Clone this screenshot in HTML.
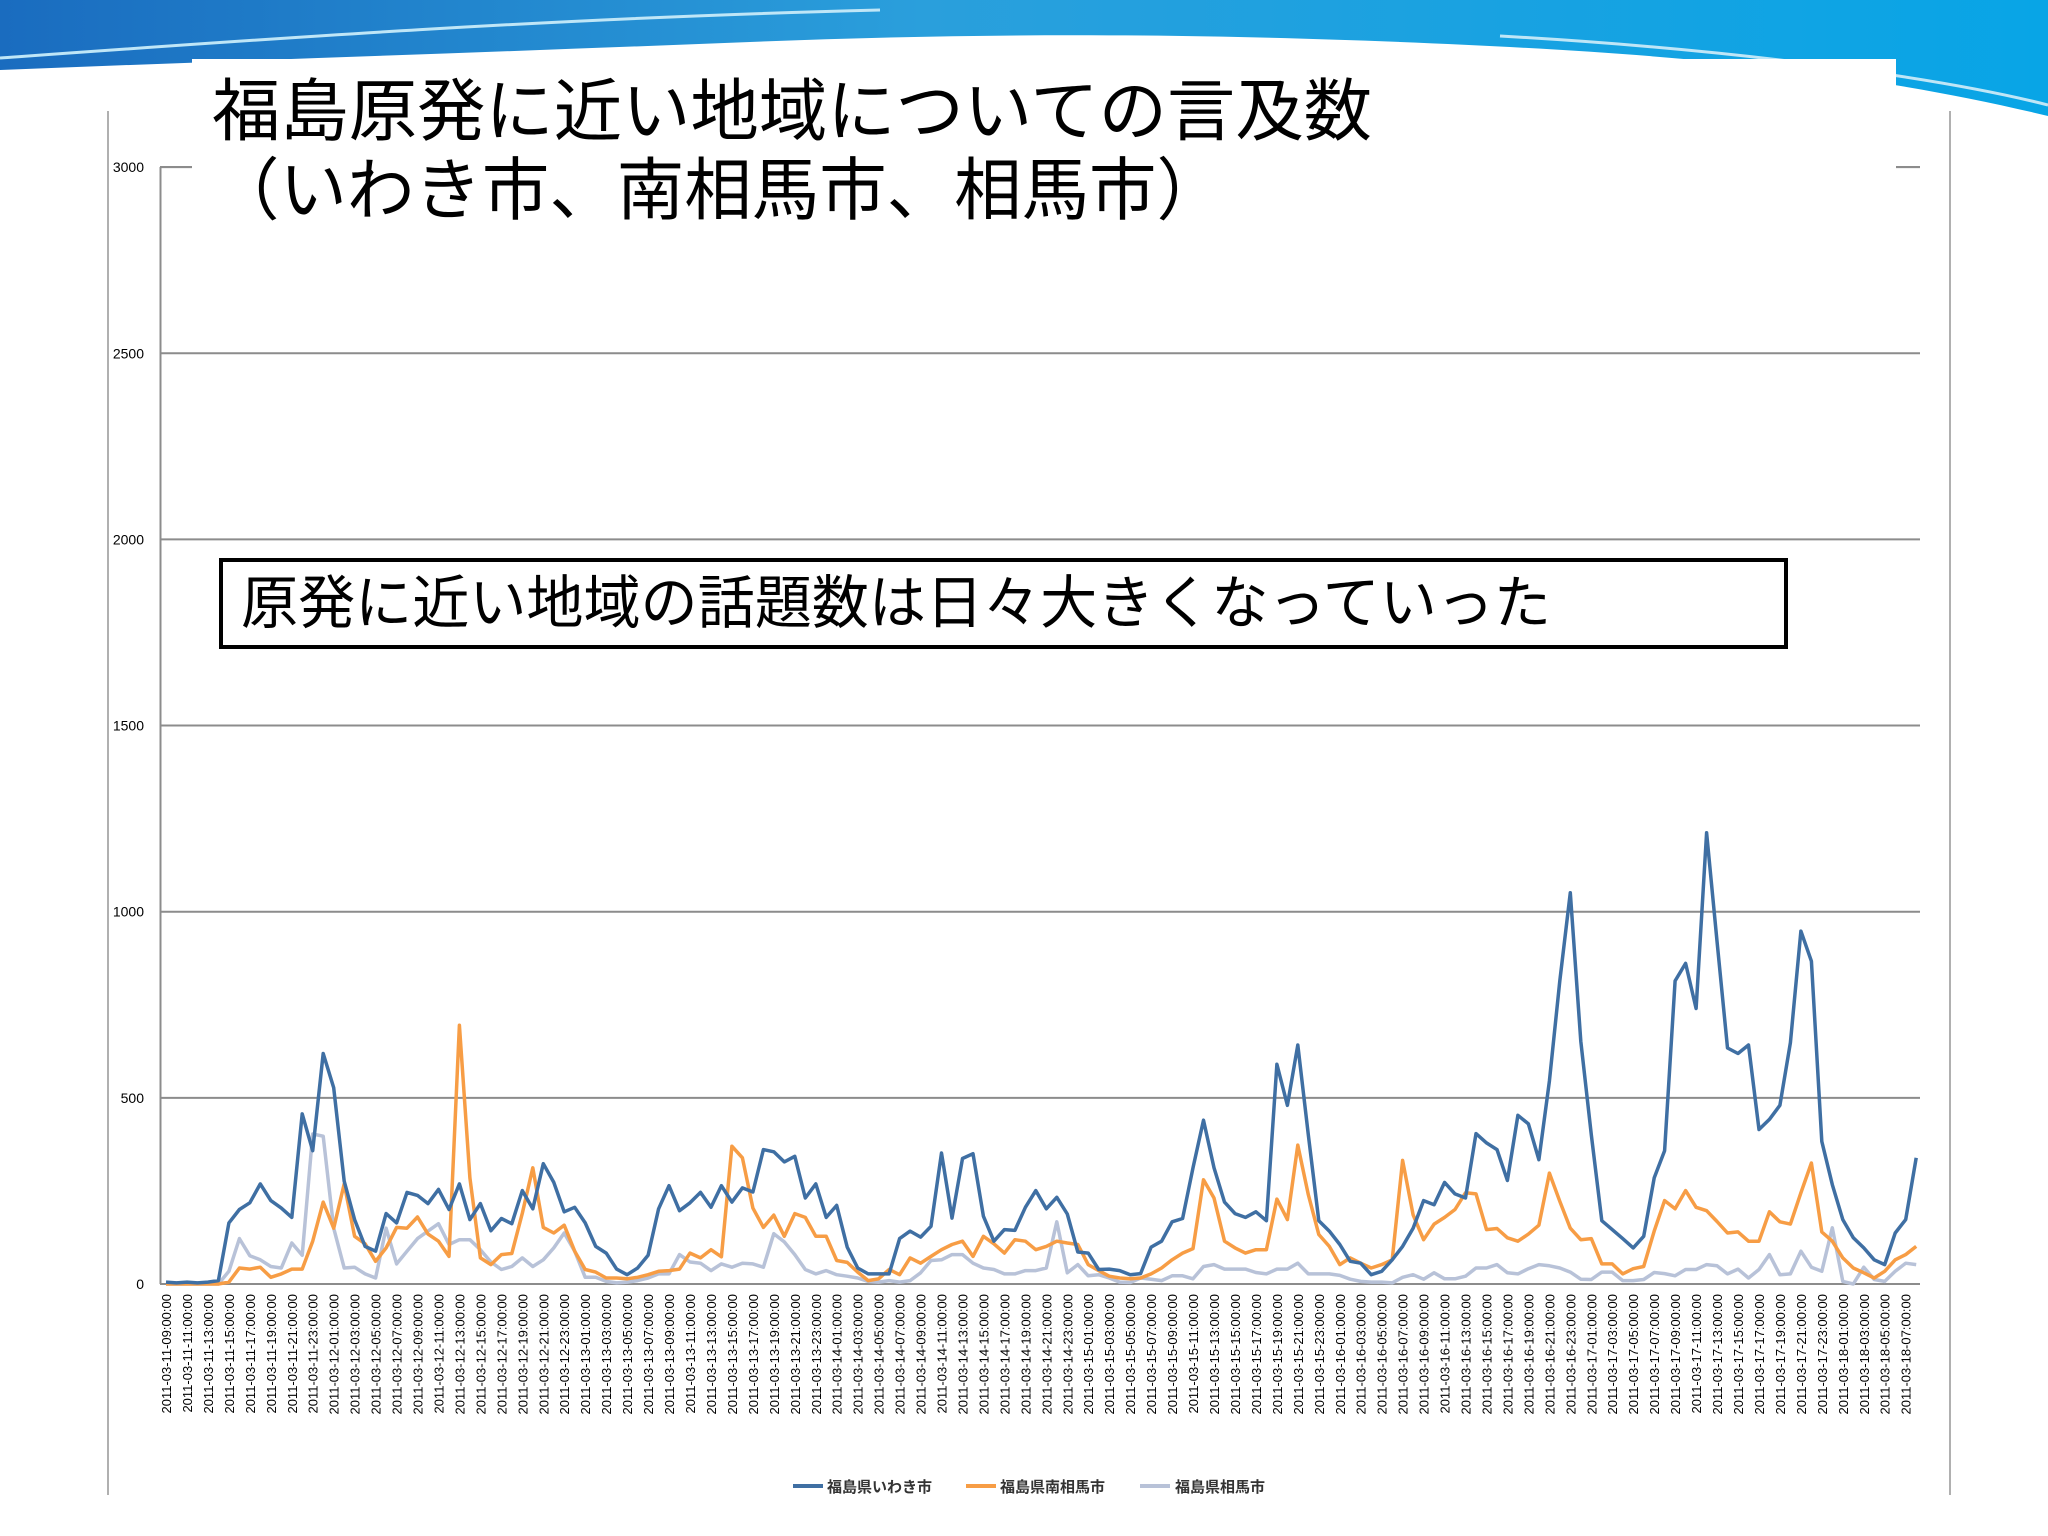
<!DOCTYPE html>
<html><head><meta charset="utf-8">
<style>
html,body{margin:0;padding:0;background:#fff;}
body{width:2048px;height:1536px;overflow:hidden;position:relative;font-family:"Liberation Sans","Noto Sans CJK JP",sans-serif;}
svg{position:absolute;left:0;top:0;}
</style></head>
<body>
<svg id="chart" width="2048" height="1536" viewBox="0 0 2048 1536">
  <defs>
    <linearGradient id="bg" x1="0" y1="0" x2="1" y2="0">
      <stop offset="0" stop-color="#1a6cbf"/>
      <stop offset="0.45" stop-color="#2a9fdc"/>
      <stop offset="1" stop-color="#08a5e6"/>
    </linearGradient>
  </defs>
  <g>
    <rect x="0" y="0" width="2048" height="130" fill="url(#bg)"/>
    <path d="M0,70 C250,60 500,52 750,42 C950,34 1150,32 1400,42 C1650,52 1850,68 2048,116 L2048,1536 L0,1536 Z" fill="#ffffff"/>
    <path d="M0,58 C250,40 550,18 880,10" stroke="#bfe6f7" stroke-width="3" fill="none"/>
    <path d="M1500,36 C1750,50 1950,80 2048,105" stroke="#bfe6f7" stroke-width="3" fill="none"/>
  </g>
  <rect x="192" y="59" width="1704" height="160" fill="#fff"/>
  <line x1="108" y1="111" x2="108" y2="1495" stroke="#b0b0b0" stroke-width="2"/>
  <line x1="1950" y1="111" x2="1950" y2="1495" stroke="#b0b0b0" stroke-width="2"/>
  <g id="grid"></g>
  <g id="yticks"></g>
  <g id="xticks"></g>
  <g id="series"></g>
  <rect x="192" y="59" width="1704" height="170" fill="#fff"/>
  <line x1="160" y1="167" x2="192" y2="167" stroke="#8c8c8c" stroke-width="2"/>
  <line x1="1896" y1="167" x2="1920" y2="167" stroke="#8c8c8c" stroke-width="2"/>
  <text x="212" y="135" font-size="68" fill="#000" textLength="1160" lengthAdjust="spacingAndGlyphs">福島原発に近い地域についての言及数</text>
  <text x="212" y="214" font-size="68" fill="#000" textLength="1012" lengthAdjust="spacingAndGlyphs">（いわき市、南相馬市、相馬市）</text>
  <rect x="221" y="560" width="1565" height="87" fill="#fff" stroke="#000" stroke-width="4"/>
  <text x="241" y="623" font-size="58" fill="#000" textLength="1310" lengthAdjust="spacingAndGlyphs">原発に近い地域の話題数は日々大きくなっていった</text>
  <g>
    <g>
      <line x1="793" y1="1486" x2="823" y2="1486" stroke="#3f6fa3" stroke-width="4"/>
      <text x="827" y="1492" font-size="15" font-weight="bold" fill="#333">福島県いわき市</text>
    </g>
    <g>
      <line x1="966" y1="1486" x2="996" y2="1486" stroke="#f79d45" stroke-width="4"/>
      <text x="1000" y="1492" font-size="15" font-weight="bold" fill="#333">福島県南相馬市</text>
    </g>
    <g>
      <line x1="1140" y1="1486" x2="1170" y2="1486" stroke="#b8c2d8" stroke-width="4"/>
      <text x="1175" y="1492" font-size="15" font-weight="bold" fill="#333">福島県相馬市</text>
    </g>
  </g>
</svg>
<script>
const yTicks = [0,500,1000,1500,2000,2500,3000];
const iwaki = [5,3,5,3,5,9,164,200,218,269,224,204,179,457,358,619,527,276,173,101,88,189,164,246,238,216,254,200,269,173,216,143,176,162,251,202,323,273,194,206,164,101,83,40,
25,43,77,202,264,197,218,246,206,264,220,258,247,361,355,328,343,231,269,179,211,99,43,27,27,27,122,142,126,155,352,177,337,350,182,115,146,144,206,251,202,233,
188,86,83,39,40,36,25,28,99,115,167,176,312,440,312,220,189,179,194,170,590,480,642,401,170,142,106,61,56,25,34,65,101,150,224,213,273,242,231,404,379,361,278,
453,430,334,545,814,1051,652,401,170,146,122,97,128,285,358,814,861,740,1212,921,634,619,642,415,442,480,648,948,867,383,267,173,124,97,65,52,137,173,339];
const minamisoma = [0,0,0,0,0,0,5,43,40,45,18,27,40,40,115,220,150,269,128,108,61,97,152,150,180,134,115,74,695,285,70,52,79,82,190,312,152,137,158,88,39,32,16,16,
14,18,25,34,36,40,83,70,92,73,370,339,204,152,185,128,189,179,128,128,63,58,32,9,14,39,25,70,56,74,92,106,115,74,128,108,83,119,115,92,101,115,
110,106,52,36,21,16,14,16,27,43,65,83,95,280,231,115,97,83,92,92,228,173,373,240,133,101,52,70,56,43,52,65,332,186,119,161,179,200,245,242,146,149,124,
115,134,158,298,222,150,119,122,54,54,27,41,47,142,224,202,251,206,197,168,137,140,115,115,194,167,161,245,325,140,115,70,43,30,16,34,65,79,101];
const soma = [0,0,0,0,0,0,34,122,76,65,47,43,110,77,403,397,150,43,45,27,16,150,54,88,122,142,162,106,119,119,92,59,39,47,70,47,65,97,137,88,18,18,7,3,
5,9,16,27,27,79,59,56,36,54,45,56,54,45,135,113,79,39,27,36,25,21,16,7,5,9,5,9,30,63,65,79,79,56,43,39,27,27,36,36,43,167,
30,52,22,25,16,5,4,16,13,9,22,22,14,47,52,40,40,40,31,27,40,40,56,27,27,27,23,13,7,5,5,3,18,25,13,30,14,14,21,43,43,52,30,
27,41,52,49,43,32,13,12,32,32,9,9,12,31,28,22,39,39,52,49,27,40,16,39,79,25,27,88,45,34,151,7,0,45,12,7,34,56,52];
const startDay = 11, startHour = 9;

const NS = "http://www.w3.org/2000/svg";
const X0 = 166, XSTEP = 10.48, Y0 = 1284, YPER = 0.3723;
function xPos(i){ return X0 + i * XSTEP; }
function yPos(v){ return Y0 - v * YPER; }
function mk(tag, attrs, parent){
  const e = document.createElementNS(NS, tag);
  for (const k in attrs) e.setAttribute(k, attrs[k]);
  parent.appendChild(e);
  return e;
}
const grid = document.getElementById('grid');
const yt = document.getElementById('yticks');
yTicks.forEach(v => {
  const l = mk('line', {x1:160, x2:1920, y1:yPos(v), y2:yPos(v), stroke:'#8c8c8c', 'stroke-width':2}, grid);
  
  
  const t = mk('text', {x:144, y:yPos(v)+5, 'font-size':14, 'text-anchor':'end', fill:'#000'}, yt);
  t.textContent = String(v);
  
  
});
mk('line', {x1:160.5, x2:160.5, y1:167, y2:1284, stroke:'#8c8c8c', 'stroke-width':2}, grid);

const xt = document.getElementById('xticks');
const n = iwaki.length;
function pad(k){ return (k<10?'0':'') + k; }
for (let i = 0; i < n; i += 2) {
  const h = startHour + i;
  const d = startDay + Math.floor(h / 24);
  const hh = h % 24;
  const label = '2011-03-' + pad(d) + '-' + pad(hh) + ':00:00';
  const x = xPos(i) + 5;
  const t = mk('text', {x:x, y:1294, 'font-size':13, 'text-anchor':'end', fill:'#000', transform:'rotate(-90 '+x+' 1294)'}, xt);
  t.textContent = label;
  
  
}

const ser = document.getElementById('series');
function drawLine(data, color, name){
  const pts = data.map((v,i) => xPos(i).toFixed(1) + ',' + yPos(v).toFixed(1)).join(' ');
  const p = mk('polyline', {points:pts, fill:'none', stroke:color, 'stroke-width':3.5, 'stroke-linejoin':'round'}, ser);
  
  
}
drawLine(soma, '#b8c2d8', 'series-soma');
drawLine(minamisoma, '#f79d45', 'series-minamisoma');
drawLine(iwaki, '#3f6fa3', 'series-iwaki');
</script>
</body></html>
